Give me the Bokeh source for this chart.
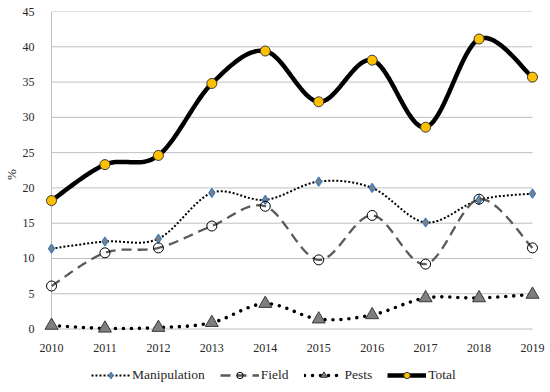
import numpy as np
from bokeh.plotting import figure
from bokeh.layouts import column
from bokeh.models import Legend, LegendItem, FixedTicker, Range1d
from bokeh.embed import file_html
from bokeh.resources import INLINE

years = [2010, 2011, 2012, 2013, 2014, 2015, 2016, 2017, 2018, 2019]
manipulation = [11.4, 12.4, 12.8, 19.3, 18.3, 20.9, 20.0, 15.1, 18.3, 19.2]
field = [6.1, 10.8, 11.5, 14.6, 17.4, 9.8, 16.1, 9.2, 18.4, 11.5]
pests = [0.5, 0.1, 0.2, 0.9, 3.6, 1.4, 2.0, 4.4, 4.4, 4.9]
total = [18.2, 23.3, 24.6, 34.8, 39.4, 32.2, 38.1, 28.6, 41.1, 35.7]
series_names = ["Manipulation", "Field", "Pests", "Total"]
y_ticks = [0, 5, 10, 15, 20, 25, 30, 35, 40, 45]


def smooth(xs, ys, n=30):
    P = np.column_stack([np.asarray(xs, float), np.asarray(ys, float)])
    out = [P[0]]
    t = np.linspace(0, 1, n + 1)[1:, None]
    for i in range(len(P) - 1):
        p0 = P[i - 1] if i > 0 else P[i]
        p1, p2 = P[i], P[i + 1]
        p3 = P[i + 2] if i + 2 < len(P) else P[i + 1]
        c1 = p1 + (p2 - p0) / 6.0
        c2 = p2 - (p3 - p1) / 6.0
        seg = (1 - t) ** 3 * p1 + 3 * (1 - t) ** 2 * t * c1 + 3 * (1 - t) * t ** 2 * c2 + t ** 3 * p2
        out.extend(seg)
    out = np.array(out)
    return out[:, 0], out[:, 1]


FONT = "Liberation Serif"

styles = [
    dict(line=dict(line_color="black", line_width=2, line_dash="2 2"),
         marker=dict(marker="diamond", size=9, fill_color="#7f7f7f", line_color="#3c7dc4", line_width=1.2)),
    dict(line=dict(line_color="#595959", line_width=2.3, line_dash="10 6"),
         marker=dict(marker="circle", size=10, fill_alpha=0, line_color="black", line_width=1)),
    dict(line=dict(line_color="black", line_width=3.6, line_dash="0 8", line_cap="round"),
         marker=dict(marker="triangle", size=13, fill_color="#7f7f7f", line_color="#3a3a3a", line_width=1)),
    dict(line=dict(line_color="black", line_width=4.5),
         marker=dict(marker="circle", size=10, fill_color="#ffc000", line_color="#3a3a3a", line_width=1)),
]
series = [manipulation, field, pests, total]

p = figure(width=550, height=355, output_backend="svg", toolbar_location=None,
           x_range=Range1d(years[0] - 0.15, years[-1] + 0.15),
           y_range=Range1d(-1.2, y_ticks[-1]),
           min_border_top=11, min_border_right=10, min_border_left=43, min_border_bottom=18)
p.outline_line_color = None
p.xgrid.visible = False
p.ygrid.visible = False

# gridlines and left axis line, spanning the data range only
p.segment(x0=[years[0]] * len(y_ticks), x1=[years[-1]] * len(y_ticks), y0=y_ticks, y1=y_ticks,
          line_color="#bfbfbf", line_width=1)
p.segment(x0=[years[0]], x1=[years[0]], y0=[y_ticks[0]], y1=[y_ticks[-1]],
          line_color="#bfbfbf", line_width=1)

p.xaxis.ticker = FixedTicker(ticks=years)
p.yaxis.ticker = FixedTicker(ticks=y_ticks)
for ax in (p.xaxis[0], p.yaxis[0]):
    ax.axis_line_color = None
    ax.major_tick_line_color = None
    ax.minor_tick_line_color = None
    ax.major_label_text_font = FONT
    ax.major_label_text_font_size = "12px"
    ax.major_label_text_color = "#262626"
p.xaxis.major_label_standoff = 0
p.yaxis.major_label_standoff = 3
p.yaxis.axis_label = "%"
p.yaxis.axis_label_text_font = FONT
p.yaxis.axis_label_text_font_style = "normal"
p.yaxis.axis_label_text_font_size = "13px"
p.yaxis.axis_label_text_color = "#262626"
p.yaxis.axis_label_standoff = 1

for vals, st in zip(series, styles):
    xs, ys = smooth(years, vals)
    p.line(xs, ys, **st["line"])
    p.scatter(years, vals, **st["marker"])

# legend strip below the chart (own canvas so it is not clipped); its series lie off-view
lg = figure(width=550, height=37, output_backend="svg", toolbar_location=None,
            x_axis_type=None, y_axis_type=None, x_range=Range1d(0, 1), y_range=Range1d(0, 1),
            min_border=0)
lg.outline_line_color = None
lg.grid.visible = False
items = []
for name, vals, st in zip(series_names, series, styles):
    r1 = lg.line(years, vals, **st["line"])
    mk = dict(st["marker"])
    mk["size"] = mk["size"] - 2
    r2 = lg.scatter(years, vals, **mk)
    items.append(LegendItem(label=name, renderers=[r1, r2]))

legend = Legend(items=items, orientation="horizontal", location=(48, 9))
legend.border_line_color = None
legend.background_fill_alpha = 0
legend.label_text_font = FONT
legend.label_text_font_size = "13.5px"
legend.label_text_color = "#262626"
legend.glyph_width = 39
legend.glyph_height = 16
legend.label_height = 16
legend.label_standoff = 2
legend.spacing = 15
legend.padding = 0
legend.margin = 0
lg.add_layout(legend, "center")

layout = column(p, lg, spacing=0)
open("out.html", "w").write(file_html(layout, INLINE))
